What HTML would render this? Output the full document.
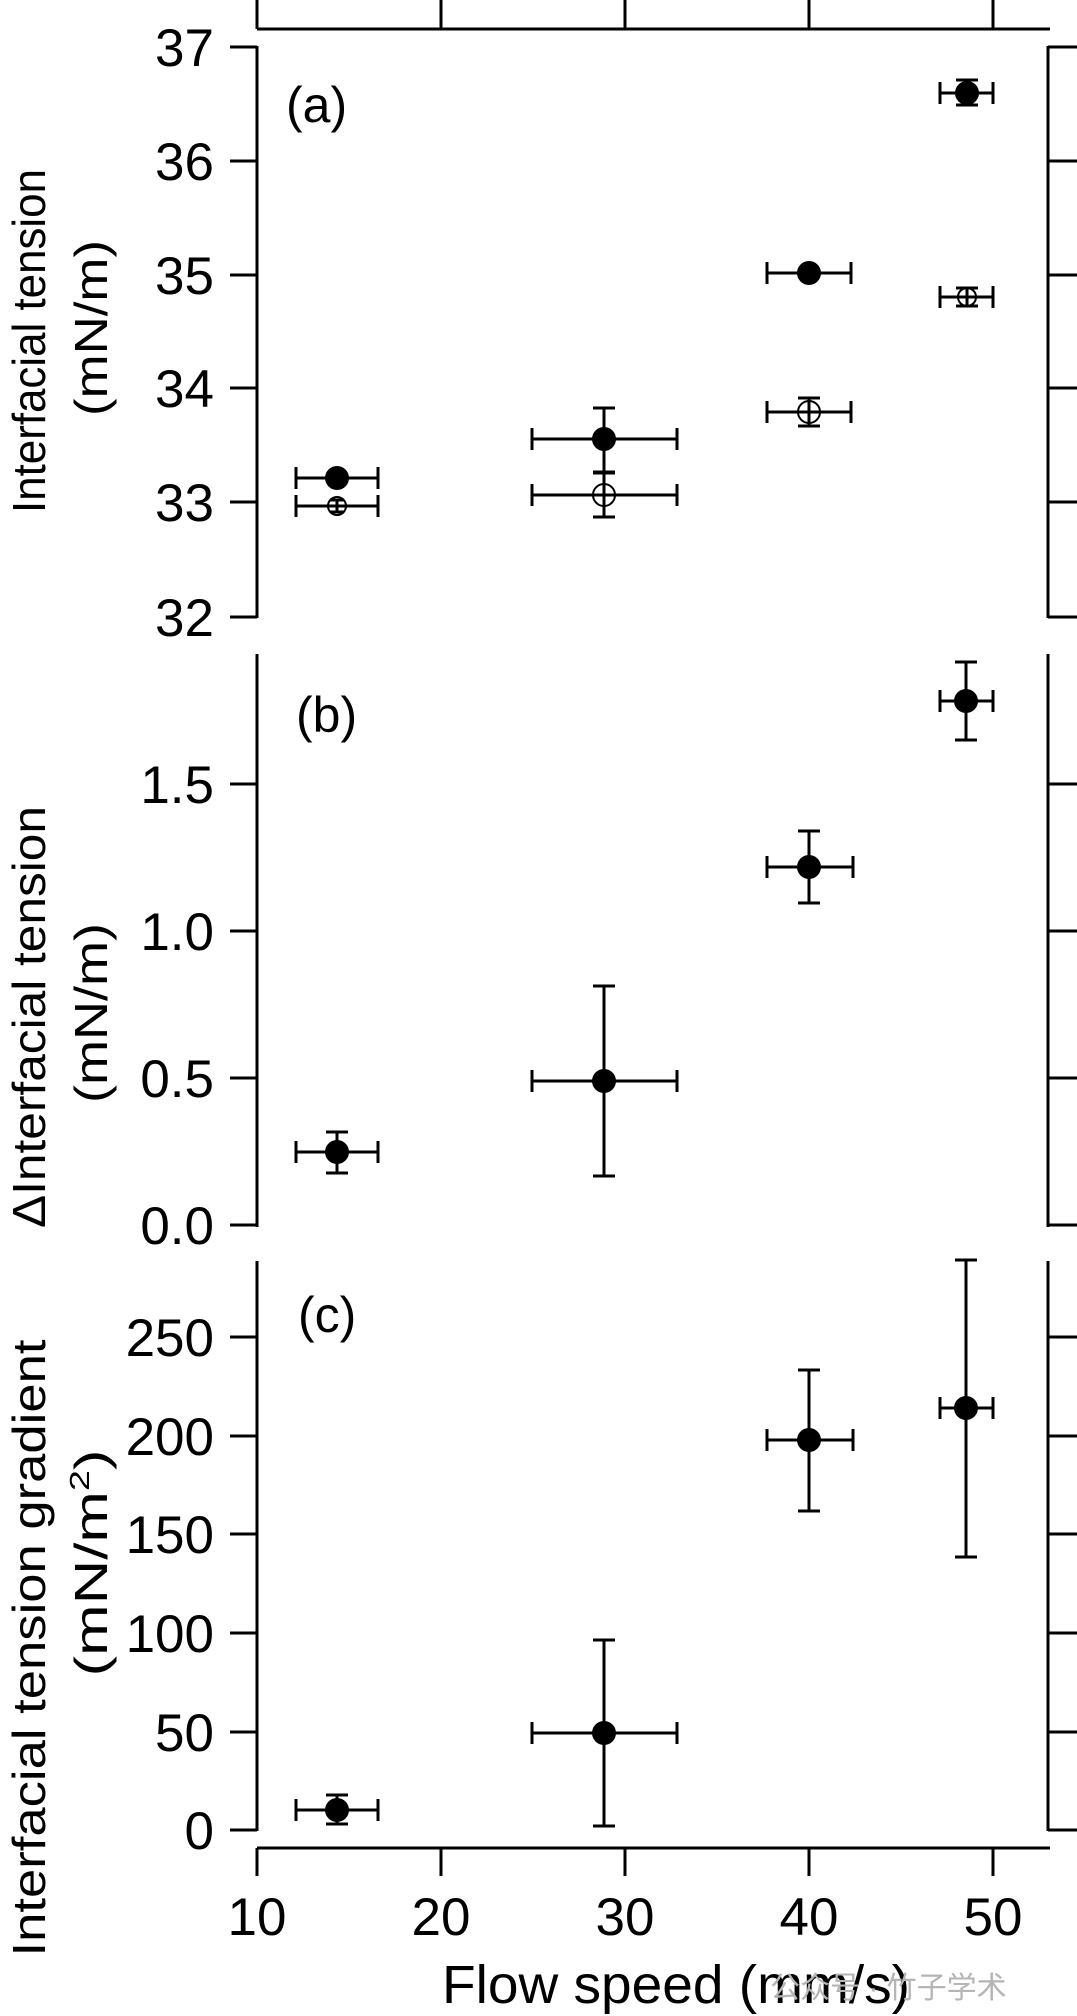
<!DOCTYPE html>
<html><head><meta charset="utf-8"><style>
html,body{margin:0;padding:0;background:#fff;}
svg{display:block;}
text{font-family:"Liberation Sans",sans-serif;fill:#000;}
</style></head><body>
<svg width="1077" height="2016" viewBox="0 0 1077 2016" xmlns="http://www.w3.org/2000/svg">
<g stroke="#000" stroke-width="3" fill="none">
<!-- top axis -->
<line x1="257" y1="29" x2="1050" y2="29"/>
<line x1="257" y1="0" x2="257" y2="29"/><line x1="441" y1="0" x2="441" y2="29"/><line x1="625" y1="0" x2="625" y2="29"/><line x1="809" y1="0" x2="809" y2="29"/><line x1="993" y1="0" x2="993" y2="29"/>
<!-- panel a axes -->
<line x1="257" y1="46" x2="257" y2="618"/><line x1="1048" y1="46" x2="1048" y2="618"/>
<line x1="230" y1="47" x2="257" y2="47"/><line x1="230" y1="161" x2="257" y2="161"/><line x1="230" y1="275" x2="257" y2="275"/><line x1="230" y1="388" x2="257" y2="388"/><line x1="230" y1="502" x2="257" y2="502"/><line x1="230" y1="617" x2="257" y2="617"/>
<line x1="1048" y1="47" x2="1077" y2="47"/><line x1="1048" y1="161" x2="1077" y2="161"/><line x1="1048" y1="275" x2="1077" y2="275"/><line x1="1048" y1="388" x2="1077" y2="388"/><line x1="1048" y1="502" x2="1077" y2="502"/><line x1="1048" y1="617" x2="1077" y2="617"/>
<!-- panel b axes -->
<line x1="257" y1="654" x2="257" y2="1227"/><line x1="1048" y1="654" x2="1048" y2="1227"/>
<line x1="230" y1="784" x2="257" y2="784"/><line x1="230" y1="931" x2="257" y2="931"/><line x1="230" y1="1078" x2="257" y2="1078"/><line x1="230" y1="1225" x2="257" y2="1225"/>
<line x1="1048" y1="784" x2="1077" y2="784"/><line x1="1048" y1="931" x2="1077" y2="931"/><line x1="1048" y1="1078" x2="1077" y2="1078"/><line x1="1048" y1="1225" x2="1077" y2="1225"/>
<!-- panel c axes -->
<line x1="257" y1="1261" x2="257" y2="1831"/><line x1="1048" y1="1261" x2="1048" y2="1831"/>
<line x1="230" y1="1337" x2="257" y2="1337"/><line x1="230" y1="1436" x2="257" y2="1436"/><line x1="230" y1="1534" x2="257" y2="1534"/><line x1="230" y1="1633" x2="257" y2="1633"/><line x1="230" y1="1732" x2="257" y2="1732"/><line x1="230" y1="1830" x2="257" y2="1830"/>
<line x1="1048" y1="1337" x2="1077" y2="1337"/><line x1="1048" y1="1436" x2="1077" y2="1436"/><line x1="1048" y1="1534" x2="1077" y2="1534"/><line x1="1048" y1="1633" x2="1077" y2="1633"/><line x1="1048" y1="1732" x2="1077" y2="1732"/><line x1="1048" y1="1830" x2="1077" y2="1830"/>
<!-- bottom axis -->
<line x1="257" y1="1848" x2="1050" y2="1848"/>
<line x1="257" y1="1848" x2="257" y2="1876"/><line x1="441" y1="1848" x2="441" y2="1876"/><line x1="625" y1="1848" x2="625" y2="1876"/><line x1="809" y1="1848" x2="809" y2="1876"/><line x1="993" y1="1848" x2="993" y2="1876"/>

<!-- error bars panel a -->
<path d="M296 478H378M296 467V489M378 467V489"/>
<path d="M296 506H378M296 495V517M378 495V517M337 500V512M330 500H344M330 512H344"/>
<path d="M532 439H677M532 428V450M677 428V450M604 408V472M593 408H615M593 472H615"/>
<path d="M532 495H677M532 484V506M677 484V506M604 473V517M593 473H615M593 517H615"/>
<path d="M767 273H851M767 262V284M851 262V284"/>
<path d="M767 412H851M767 401V423M851 401V423M809 398V426M798 398H820M798 426H820"/>
<path d="M940 93H993M940 82V104M993 82V104M967 80V105M956 80H978M956 105H978"/>
<path d="M940 297H993M940 286V308M993 286V308M967 288V306M956 288H978M956 306H978"/>
<!-- panel b -->
<path d="M296 1152H378M296 1141V1163M378 1141V1163M337 1132V1173M326 1132H348M326 1173H348"/>
<path d="M532 1081H677M532 1070V1092M677 1070V1092M604 986V1176M593 986H615M593 1176H615"/>
<path d="M767 867H853M767 856V878M853 856V878M809 831V903M798 831H820M798 903H820"/>
<path d="M940 701H993M940 690V712M993 690V712M966 662V740M955 662H977M955 740H977"/>
<!-- panel c -->
<path d="M296 1810H378M296 1799V1821M378 1799V1821M337 1795V1824M326 1795H348M326 1824H348"/>
<path d="M532 1733H677M532 1722V1744M677 1722V1744M604 1640V1826M593 1640H615M593 1826H615"/>
<path d="M767 1440H853M767 1429V1451M853 1429V1451M809 1370V1511M798 1370H820M798 1511H820"/>
<path d="M940 1408H993M940 1397V1419M993 1397V1419M966 1260V1557M955 1260H977M955 1557H977"/>
</g>
<!-- markers -->
<g fill="#000">
<circle cx="337" cy="478" r="12"/><circle cx="604" cy="439" r="12"/><circle cx="809" cy="273" r="12"/><circle cx="967" cy="93" r="12"/>
<circle cx="337" cy="1152" r="12"/><circle cx="604" cy="1081" r="12"/><circle cx="809" cy="867" r="12"/><circle cx="966" cy="701" r="12"/>
<circle cx="337" cy="1810" r="12"/><circle cx="604" cy="1733" r="12"/><circle cx="809" cy="1440" r="12"/><circle cx="966" cy="1408" r="12"/>
</g>
<g fill="none" stroke="#000" stroke-width="2">
<circle cx="337" cy="506" r="9"/><circle cx="604" cy="495" r="11"/><circle cx="809" cy="412" r="11"/><circle cx="967" cy="297" r="9"/>
</g>
<!-- tick labels -->
<g font-size="53" text-anchor="end">
<text x="214" y="66">37</text><text x="214" y="180">36</text><text x="214" y="294">35</text><text x="214" y="407">34</text><text x="214" y="521">33</text><text x="214" y="636">32</text>
<text x="214" y="803">1.5</text><text x="214" y="950">1.0</text><text x="214" y="1097">0.5</text><text x="214" y="1244">0.0</text>
<text x="214" y="1356">250</text><text x="214" y="1455">200</text><text x="214" y="1553">150</text><text x="214" y="1652">100</text><text x="214" y="1751">50</text><text x="214" y="1849">0</text>
</g>
<g font-size="53" text-anchor="middle">
<text x="257" y="1935">10</text><text x="441" y="1935">20</text><text x="625" y="1935">30</text><text x="809" y="1935">40</text><text x="993" y="1935">50</text>
</g>
<g font-size="50">
<text x="286" y="122">(a)</text>
<text x="296" y="732">(b)</text>
<text x="298" y="1332">(c)</text>
</g>
<text x="676" y="2003" font-size="54" text-anchor="middle" textLength="468" lengthAdjust="spacingAndGlyphs">Flow speed (mm/s)</text>
<!-- y labels -->
<g font-size="46" text-anchor="middle">
<text transform="translate(45,341) rotate(-90)" textLength="344" lengthAdjust="spacingAndGlyphs">Interfacial tension</text>
<text transform="translate(107,328) rotate(-90)" textLength="176" lengthAdjust="spacingAndGlyphs">(mN/m)</text>
<text transform="translate(45,1017) rotate(-90)" textLength="422" lengthAdjust="spacingAndGlyphs">ΔInterfacial tension</text>
<text transform="translate(107,1013) rotate(-90)" textLength="180" lengthAdjust="spacingAndGlyphs">(mN/m)</text>
<text transform="translate(45,1648) rotate(-90)" textLength="617" lengthAdjust="spacingAndGlyphs">Interfacial tension gradient</text>
<text transform="translate(107,1563) rotate(-90)" textLength="227" lengthAdjust="spacingAndGlyphs">(mN/m<tspan font-size="28" dy="-18">2</tspan><tspan dy="18">)</tspan></text>
</g>
<text x="770" y="1998" font-size="30" fill="#bbb" style="fill:#b5b5b5" font-family="'Liberation Sans','Noto Sans CJK SC',sans-serif">公众号 · 竹子学术</text>
</svg>
</body></html>
